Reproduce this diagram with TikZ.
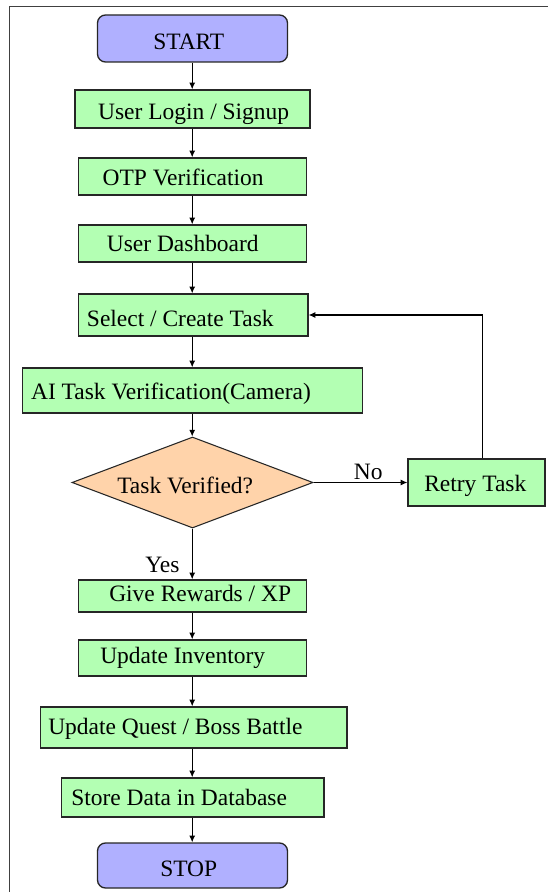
\documentclass[tikz,border=0pt]{standalone}
\usepackage{fontspec}
\setmainfont{Liberation Serif}
\newfontfamily\tnrfont{Liberation Serif}
\usetikzlibrary{shapes.geometric,arrows.meta}
\definecolor{boxgreen}{HTML}{B3FFB3}
\definecolor{termblue}{HTML}{B0B0FF}
\definecolor{decpeach}{HTML}{FFD3AA}
\definecolor{framegray}{HTML}{404040}
\tikzset{
  procbox/.style={draw=black!85, line width=1pt, fill=boxgreen, rectangle, inner sep=0pt},
  termbox/.style={draw=black!85, line width=1pt, fill=termblue, rectangle, rounded corners=6pt, inner sep=0pt},
  decbox/.style={draw=black!85, line width=0.8pt, fill=decpeach, diamond, inner sep=0pt},
  txt/.style={anchor=base west, inner sep=0pt, font=\tnrfont\fontsize{17.6}{20}\selectfont},
  arr/.style={draw=black, line width=0.8pt, -{Latex[length=5pt,width=4.5pt]}}
}
\begin{document}
\begin{tikzpicture}[x=0.75pt, y=-0.75pt]
\useasboundingbox (0,0) rectangle (548,892);
% outer frame
\draw[framegray, line width=1.1pt] (9.4,892) -- (9.4,6.7) -- (548,6.7);

% boxes
\node[termbox, minimum width=142.5pt, minimum height=35.25pt] (start) at (192.5,38.5) {};
\node[procbox, minimum width=176.25pt, minimum height=28.5pt] (login) at (192.5,109) {};
\node[procbox, minimum width=171pt, minimum height=27.75pt] (otp) at (192.5,176.5) {};
\node[procbox, minimum width=171pt, minimum height=27.75pt] (dash) at (192.5,243.5) {};
\node[procbox, minimum width=172pt, minimum height=31.5pt] (select) at (193.3,315) {};
\node[procbox, minimum width=255pt, minimum height=33.75pt] (ai) at (192.6,390.5) {};
\node[decbox, minimum width=180.75pt, minimum height=68.25pt] (dec) at (192.5,482.5) {};
\node[procbox, minimum width=102.75pt, minimum height=35.25pt] (retry) at (476.5,482.5) {};
\node[procbox, minimum width=171pt, minimum height=24pt] (give) at (192.5,596) {};
\node[procbox, minimum width=171pt, minimum height=27pt] (inv) at (192.5,658) {};
\node[procbox, minimum width=230pt, minimum height=30.75pt] (quest) at (193.5,727.5) {};
\node[procbox, minimum width=197pt, minimum height=29.25pt] (store) at (192.6,797.5) {};
\node[termbox, minimum width=142.5pt, minimum height=33.75pt] (stop) at (192.5,865.5) {};

% texts
\node[txt] (tstart) at (153,50) {START};
\node[txt] (tlogin) at (97.9,119) {User Login / Signup};
\node[txt] (totp) at (102.4,185.7) {OTP Verification};
\node[txt] (tdash) at (106.6,251.7) {User Dashboard};
\node[txt] (tselect) at (86.7,326.7) {Select / Create Task};
\node[txt] (tai) at (30.8,399.3) {AI Task Verification(Camera)};
\node[txt] (tdec) at (117,493.3) {Task Verified?};
\node[txt] (tretry) at (424,491.7) {Retry Task};
\node[txt] (tno) at (353.7,479.3) {No};
\node[txt] (tyes) at (145,572.7) {Yes};
\node[txt] (tgive) at (109,601.7) {Give Rewards / XP};
\node[txt] (tinv) at (100,663) {Update Inventory};
\node[txt] (tquest) at (48,734) {Update Quest / Boss Battle};
\node[txt] (tstore) at (71,805) {Store Data in Database};
\node[txt] (tstop) at (160,876.7) {STOP};

% connectors
\coordinate (lp) at (482.3,315);
\draw[arr] (start.south -| 192.2,0) -- (login.north -| 192.2,0);
\draw[arr] (login.south -| 192.2,0) -- (otp.north -| 192.2,0);
\draw[arr] (otp.south -| 192.2,0) -- (dash.north -| 192.2,0);
\draw[arr] (dash.south -| 192.2,0) -- (select.north -| 192.2,0);
\draw[arr] (select.south -| 192.2,0) -- (ai.north -| 192.2,0);
\draw[arr] (ai.south -| 192.2,0) -- (dec.north -| 192.2,0);
\draw[arr] (dec.south -| 192.2,0) -- (give.north -| 192.2,0);
\draw[arr] (dec.east) -- (retry.west);
\draw[arr] (retry.north -| lp) -- (lp) -- (select.east);
\draw[arr] (give.south -| 192.2,0) -- (inv.north -| 192.2,0);
\draw[arr] (inv.south -| 192.2,0) -- (quest.north -| 192.2,0);
\draw[arr] (quest.south -| 192.2,0) -- (store.north -| 192.2,0);
\draw[arr] (store.south -| 192.2,0) -- (stop.north -| 192.2,0);
\end{tikzpicture}
\end{document}
